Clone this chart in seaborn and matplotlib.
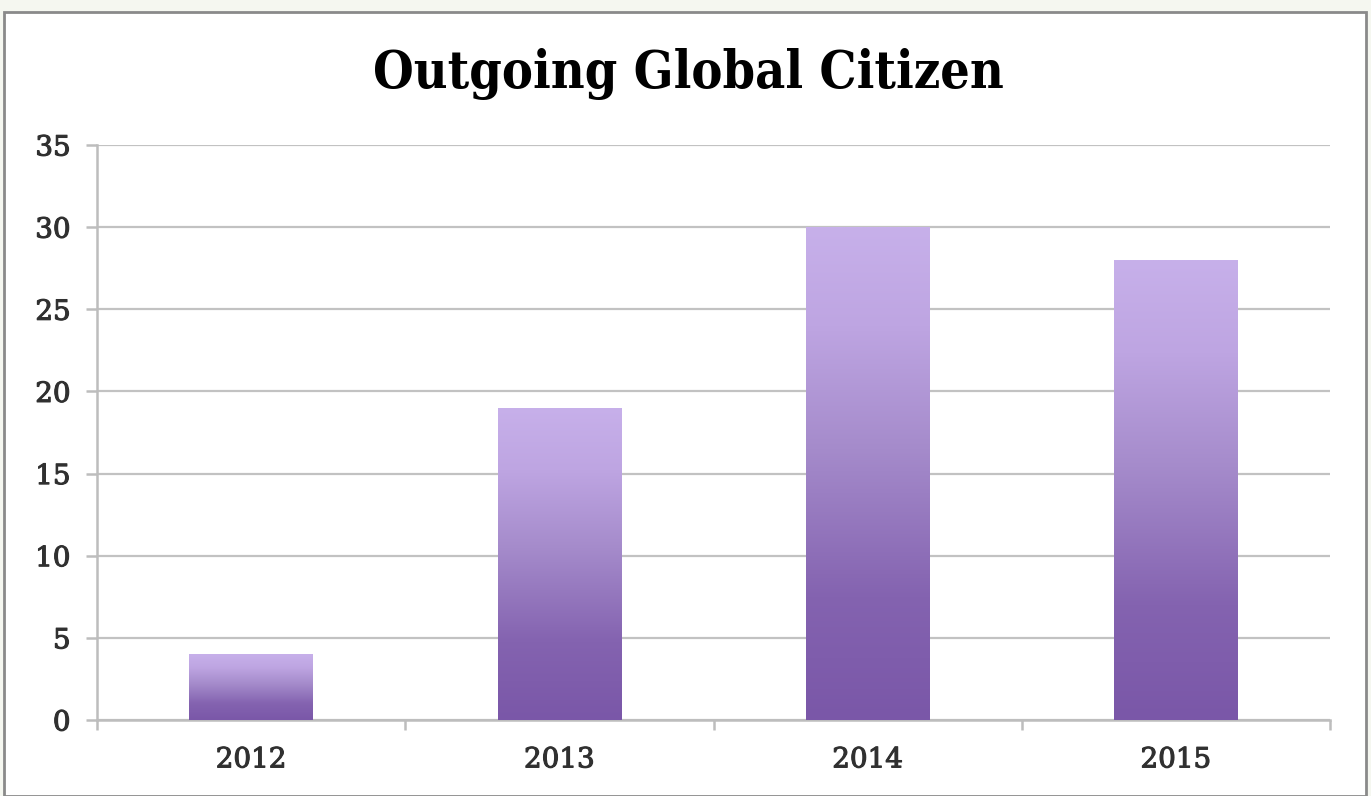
import numpy as np
import pandas as pd
import matplotlib
matplotlib.use("Agg")
import matplotlib.pyplot as plt
import matplotlib.patheffects as pe
import seaborn as sns
from matplotlib.colors import LinearSegmentedColormap
from matplotlib.patches import Rectangle

years = ["2012", "2013", "2014", "2015"]
values = [4, 19, 30, 28]
yticks = [0, 5, 10, 15, 20, 25, 30, 35]
title = "Outgoing Global Citizen"

sns.set_theme(style="white")
plt.rcParams['font.family'] = ['DejaVu Serif', 'DejaVu Sans']

W, H = 1371, 796
fig = plt.figure(figsize=(W / 100, H / 100), dpi=100, facecolor="#f5f7f0")
fig.patches.append(Rectangle((4 / W, 0), (1366 - 4) / W, (796 - 12) / H,
                             transform=fig.transFigure, facecolor="white",
                             edgecolor="#8a8a8a", linewidth=2.0, zorder=-5))

ax = fig.add_axes([97 / W, 1 - 720 / H, (1330 - 97) / W, (720 - 145) / H])
ax.set_facecolor("none")

df = pd.DataFrame({"year": years, "value": values})
sns.barplot(data=df, x="year", y="value", ax=ax, width=0.40,
            color="#9b7fc8", saturation=1, linewidth=0, zorder=3)

cmap = LinearSegmentedColormap.from_list(
    "grad", [(0.0, "#7a57a8"), (0.25, "#8463b0"), (0.55, "#a58bcb"),
             (0.8, "#bea5e2"), (1.0, "#c7b0ea")])
grad = np.linspace(0, 1, 256).reshape(-1, 1)
for p in list(ax.patches):
    x0, y0 = p.get_x(), p.get_y()
    w, h = p.get_width(), p.get_height()
    im = ax.imshow(grad, cmap=cmap, origin="lower", aspect="auto",
                   extent=[x0, x0 + w, y0, y0 + h], zorder=4)
    im.set_clip_path(p)

ax.set_xlim(-0.5, 3.5)
ax.set_ylim(0, 35)
ax.set_yticks(yticks)
ax.set_yticklabels([str(t) for t in yticks])
ax.yaxis.grid(True, color="#c2c2c2", linewidth=1.6, zorder=0)
ax.set_axisbelow(True)

for s in ["top", "right"]:
    ax.spines[s].set_visible(False)
for s in ["left", "bottom"]:
    ax.spines[s].set_color("#bdbdbd")
    ax.spines[s].set_linewidth(1.8)

ax.tick_params(axis="y", which="major", length=8, width=1.8, color="#bdbdbd",
               labelsize=20, labelcolor="#303030", pad=11, left=True)
ax.tick_params(axis="x", which="major", length=0, labelsize=20,
               labelcolor="#303030", pad=19)
ax.set_xticks(np.arange(-0.5, 4.0, 1.0), minor=True)
ax.tick_params(axis="x", which="minor", length=7, width=1.8, color="#bdbdbd",
               bottom=True)
for lab in ax.get_xticklabels() + ax.get_yticklabels():
    lab.set_path_effects([pe.withStroke(linewidth=0.8, foreground="#303030")])
ax.set_xlabel("")
ax.set_ylabel("")

fig.text(688 / W, 1 - 74 / H, title, ha="center", va="center",
         fontsize=37.4, fontweight="bold", fontstretch="condensed",
         family=["DejaVu Serif"], color="black")

fig.savefig("out.png", dpi=100, facecolor=fig.get_facecolor())
